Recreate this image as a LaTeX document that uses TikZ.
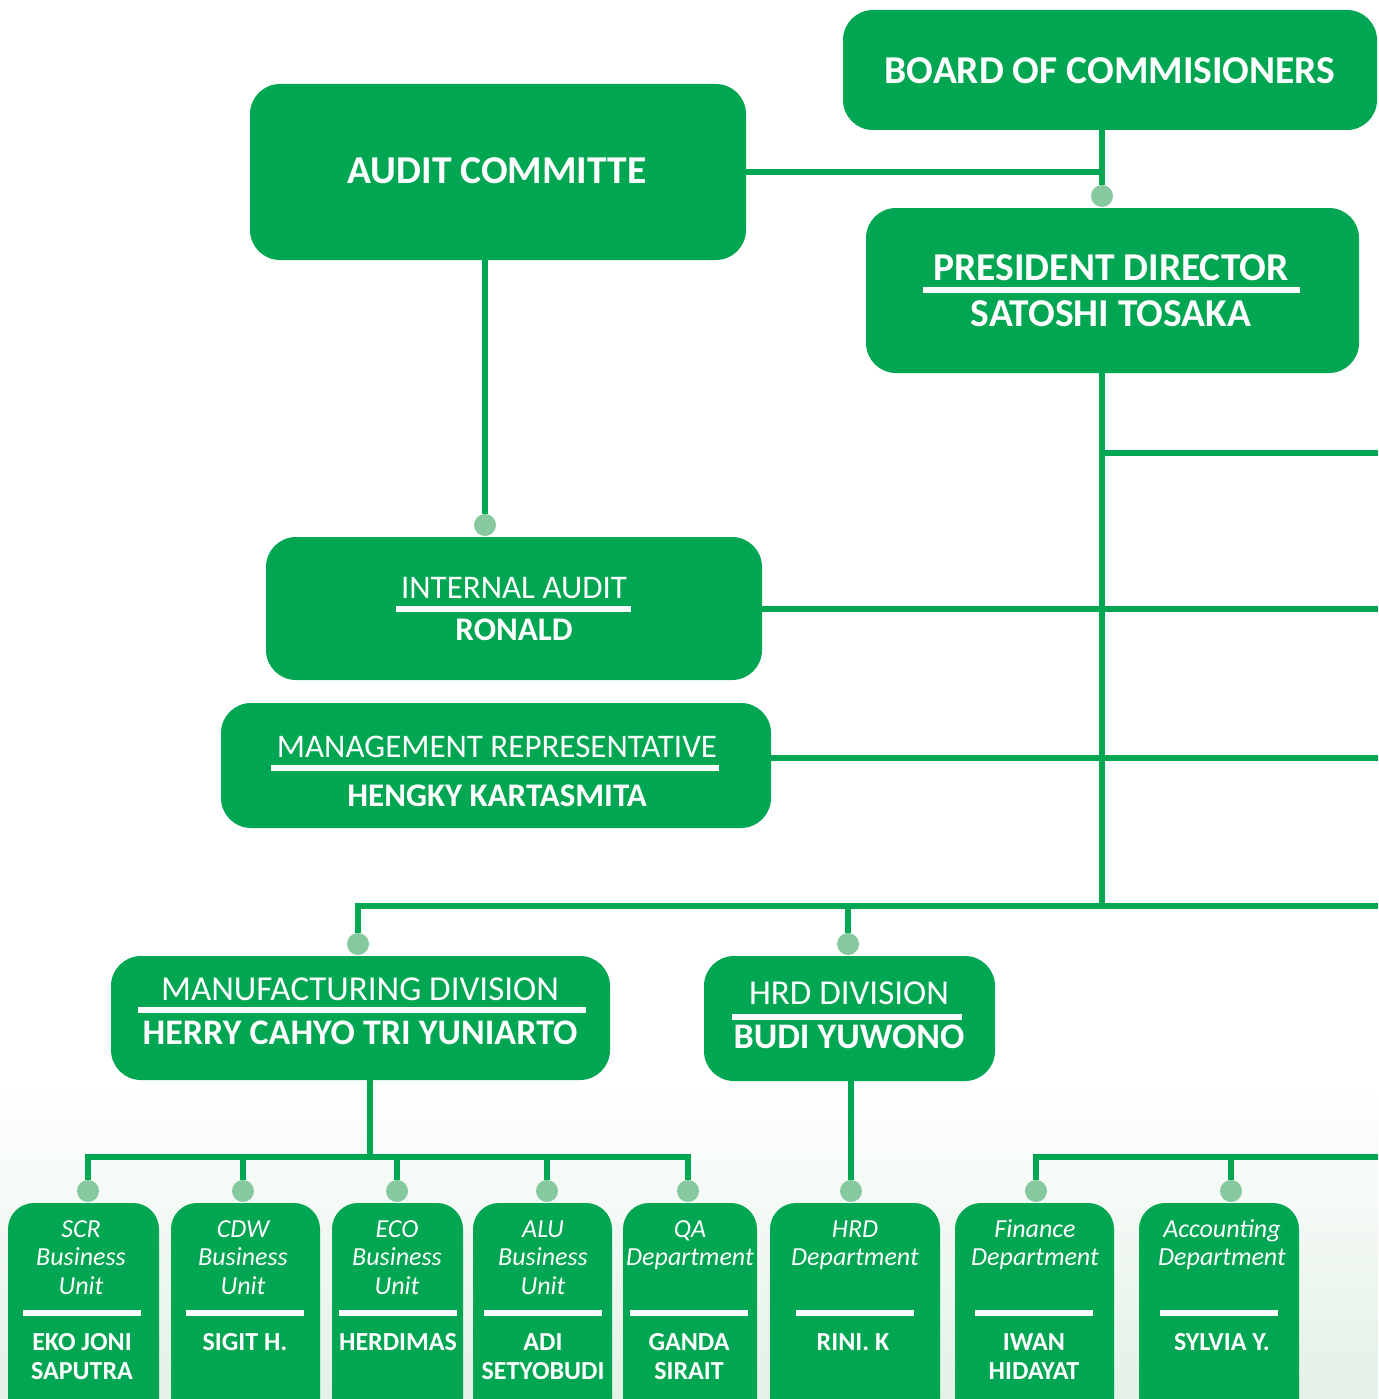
\documentclass[tikz,border=0pt]{standalone}
\usepackage{fontspec}
\setmainfont{Carlito}
\definecolor{orgGreen}{HTML}{00A651}
\definecolor{dotGreen}{HTML}{86C99F}
\definecolor{fadeGreen}{HTML}{E3F1E6}
\tikzstyle{box}=[fill=orgGreen, rounded corners=30pt, inner sep=0pt]
\tikzstyle{unit}=[fill=orgGreen, rounded corners=26pt, inner sep=0pt, minimum height=237pt]
\tikzstyle{link}=[draw=orgGreen, line width=6pt]
\tikzstyle{underbar}=[draw=white, line width=6pt]
\tikzstyle{dot}=[circle, fill=dotGreen, inner sep=0pt, minimum size=22pt]
\tikzstyle{boxtext}=[text=white, inner sep=0pt, anchor=base, align=center]
\tikzstyle{bigtext}=[boxtext, font=\fontsize{39.5}{44}\selectfont\bfseries]
\tikzstyle{roletext}=[boxtext, font=\fontsize{33}{38}\selectfont]
\tikzstyle{nametext}=[boxtext, font=\fontsize{33}{38}\selectfont\bfseries]
\tikzstyle{divrole}=[boxtext, font=\fontsize{35}{40}\selectfont]
\tikzstyle{divname}=[boxtext, font=\fontsize{36}{41}\selectfont\bfseries]
\tikzstyle{unittext}=[boxtext, font=\fontsize{26}{28.5}\selectfont\itshape]
\tikzstyle{unitname}=[boxtext, font=\fontsize{26}{29}\selectfont\bfseries]

\begin{document}
\begin{tikzpicture}[x=1pt, y=-1pt]
    \useasboundingbox (0,0) rectangle (1378,1399);
    \clip (0,0) rectangle (1378,1399);
    \shade [top color=white, bottom color=fadeGreen] (0,1080) rectangle (1378,1399);

    \node [box, minimum width=534pt, minimum height=120pt] (board) at (1110,70) {};
    \node [bigtext] (boardT) at (1110,84) {BOARD OF COMMISIONERS};
    \node [box, minimum width=496pt, minimum height=176pt] (audit) at (498,172) {};
    \node [bigtext] (auditT) at (497,184) {AUDIT COMMITTE};
    \node [box, minimum width=493pt, minimum height=165pt] (pd) at (1112.5,290.5) {};
    \node [bigtext] (pdT) at (1111,280) {PRESIDENT DIRECTOR};
    \node [bigtext] (pdN) at (1111,326) {SATOSHI TOSAKA};
    \draw [underbar] (923,290) -- (1300,290);
    \node [box, minimum width=496pt, minimum height=143pt] (ia) at (514,608.5) {};
    \node [roletext] (iaT) at (514,598) {INTERNAL AUDIT};
    \node [nametext] (iaN) at (514,640) {RONALD};
    \draw [underbar] (396,609) -- (631,609);
    \node [box, minimum width=550pt, minimum height=125pt] (mr) at (496,765.5) {};
    \node [roletext] (mrT) at (497,757) {MANAGEMENT REPRESENTATIVE};
    \node [nametext] (mrN) at (497,806) {HENGKY KARTASMITA};
    \draw [underbar] (271,768) -- (719,768);
    \node [box, minimum width=499pt, minimum height=124pt] (manu) at (360.5,1018) {};
    \node [divrole] (manuT) at (360,1000) {MANUFACTURING DIVISION};
    \node [divname] (manuN) at (360,1044) {HERRY CAHYO TRI YUNIARTO};
    \draw [underbar] (138,1010) -- (586,1010);
    \node [box, minimum width=291pt, minimum height=125pt] (hrdd) at (849.5,1018.5) {};
    \node [divrole] (hrddT) at (849,1004) {HRD DIVISION};
    \node [divname] (hrddN) at (849,1048) {BUDI YUWONO};
    \draw [underbar] (732,1017) -- (962,1017);

    \node [unit, minimum width=151pt] (scr) at (83.5,1321.5) {};
    \node [unittext] (scrT) at (81,1294) {SCR\\Business\\Unit};
    \node [unitname] (scrN) at (82,1379) {EKO JONI\\SAPUTRA};
    \draw [underbar] (23,1313) -- (141,1313);
    \node [unit, minimum width=149pt] (cdw) at (245.5,1321.5) {};
    \node [unittext] (cdwT) at (243,1294) {CDW\\Business\\Unit};
    \node [unitname] (cdwN) at (245,1350) {SIGIT H.};
    \draw [underbar] (186,1313) -- (304,1313);
    \node [unit, minimum width=131pt] (eco) at (397.5,1321.5) {};
    \node [unittext] (ecoT) at (397,1294) {ECO\\Business\\Unit};
    \node [unitname] (ecoN) at (398,1350) {HERDIMAS};
    \draw [underbar] (339,1313) -- (457,1313);
    \node [unit, minimum width=139pt] (alu) at (542.5,1321.5) {};
    \node [unittext] (aluT) at (543,1294) {ALU\\Business\\Unit};
    \node [unitname] (aluN) at (543,1379) {ADI\\SETYOBUDI};
    \draw [underbar] (484,1313) -- (602,1313);
    \node [unit, minimum width=134pt] (qa) at (690,1321.5) {};
    \node [unittext] (qaT) at (690,1265.5) {QA\\Department};
    \node [unitname] (qaN) at (689,1379) {GANDA\\SIRAIT};
    \draw [underbar] (630,1313) -- (748,1313);
    \node [unit, minimum width=170pt] (hrd) at (855,1321.5) {};
    \node [unittext] (hrdT) at (855,1265.5) {HRD\\Department};
    \node [unitname] (hrdN) at (853,1350) {RINI. K};
    \draw [underbar] (796,1313) -- (914,1313);
    \node [unit, minimum width=159pt] (fin) at (1034.5,1321.5) {};
    \node [unittext] (finT) at (1035,1265.5) {Finance\\Department};
    \node [unitname] (finN) at (1034,1379) {IWAN\\HIDAYAT};
    \draw [underbar] (975,1313) -- (1093,1313);
    \node [unit, minimum width=160pt] (acc) at (1219,1321.5) {};
    \node [unittext] (accT) at (1222,1265.5) {Accounting\\Department};
    \node [unitname] (accN) at (1222,1350) {SYLVIA Y.};
    \draw [underbar] (1160,1313) -- (1278,1313);

    \node [dot] (pdD) at (1102,196) {};
    \node [dot] (iaD) at (485,525) {};
    \node [dot] (manuD) at (358,944) {};
    \node [dot] (hrddD) at (848,944) {};
    \node [dot] (scrD) at (88,1191) {};
    \node [dot] (cdwD) at (243,1191) {};
    \node [dot] (ecoD) at (397,1191) {};
    \node [dot] (aluD) at (547,1191) {};
    \node [dot] (qaD) at (688,1191) {};
    \node [dot] (hrdD) at (851,1191) {};
    \node [dot] (finD) at (1036,1191) {};
    \node [dot] (accD) at (1231,1191) {};

    \coordinate (hub) at (1102,906);
    \coordinate (out1) at (1378,453);
    \coordinate (out2) at (1378,609);
    \coordinate (out3) at (1378,758);
    \coordinate (out4) at (1378,906);
    \coordinate (bus) at (370,1157);
    \coordinate (out5) at (1378,1157);

    \draw [link] (board.south -| pdD) -- (pdD.north);
    \draw [link] (audit.east) -- (audit.east -| pdD);
    \draw [link] (audit.south -| iaD) -- (iaD.north);
    \draw [link] (pd.south -| hub) -- (hub);
    \draw [link] (out1 -| hub) -- (out1);
    \draw [link] (ia.east |- out2) -- (out2);
    \draw [link] (mr.east |- out3) -- ([xshift=4pt]mr.east |- out3) -- (out3);
    \draw [link] (manuD.north) |- (out4);
    \draw [link] (hrddD.north) -- (hrddD |- out4);
    \draw [link] (manu.south -| bus) -- (bus);
    \draw [link] (scrD.north) |- (bus) -| (qaD.north);
    \draw [link] (cdwD.north) -- (cdwD |- bus);
    \draw [link] (ecoD.north) -- (ecoD |- bus);
    \draw [link] (aluD.north) -- (aluD |- bus);
    \draw [link] (hrdd.south -| hrdD) -- (hrdD.north);
    \draw [link] (finD.north) |- (out5);
    \draw [link] (accD.north) -- (accD |- out5);
\end{tikzpicture}
\end{document}
